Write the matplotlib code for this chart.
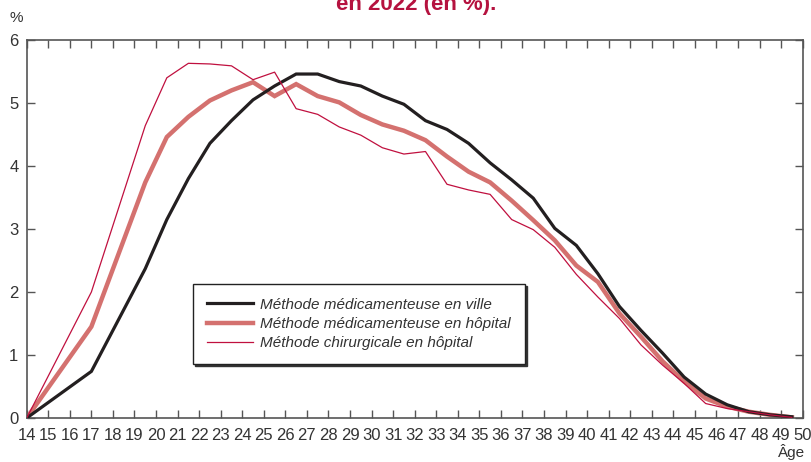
import matplotlib
matplotlib.use("Agg")
import matplotlib.pyplot as plt

# ---- data ----
ages = [14, 17, 19.5, 20.5, 21.5, 22.5, 23.5, 24.5, 25.5, 26.5, 27.5, 28.5, 29.5,
        30.5, 31.5, 32.5, 33.5, 34.5, 35.5, 36.5, 37.5, 38.5, 39.5, 40.5, 41.5,
        42.5, 43.5, 44.5, 45.5, 46.5, 47.5, 48.5, 49.5]
ville = [0, 0.74, 2.37, 3.15, 3.80, 4.36, 4.72, 5.05, 5.27, 5.46, 5.46, 5.34, 5.27,
         5.11, 4.98, 4.72, 4.58, 4.36, 4.05, 3.78, 3.49, 3.01, 2.74, 2.29, 1.77,
         1.39, 1.03, 0.65, 0.38, 0.21, 0.10, 0.05, 0.02]
hopital_med = [0, 1.45, 3.74, 4.46, 4.78, 5.04, 5.20, 5.33, 5.11, 5.30, 5.11, 5.01, 4.81,
               4.66, 4.56, 4.41, 4.15, 3.91, 3.74, 3.45, 3.14, 2.82, 2.42, 2.16, 1.66,
               1.29, 0.90, 0.58, 0.31, 0.18, 0.10, 0.05, 0.01]
chirurgicale = [0, 2.0, 4.64, 5.40, 5.63, 5.62, 5.59, 5.37, 5.49, 4.91, 4.82, 4.62, 4.49,
                4.29, 4.19, 4.23, 3.71, 3.62, 3.55, 3.15, 2.99, 2.71, 2.28, 1.92, 1.58,
                1.16, 0.84, 0.55, 0.23, 0.15, 0.10, 0.05, 0.01]
labels = ["Méthode médicamenteuse en ville",
          "Méthode médicamenteuse en hôpital",
          "Méthode chirurgicale en hôpital"]
xticks = list(range(14, 51))
yticks = [0, 1, 2, 3, 4, 5, 6]

plt.rcParams["font.family"] = ["Liberation Sans", "DejaVu Sans"]

fig = plt.figure(figsize=(8.12, 4.62), dpi=100)
ax = fig.add_axes([0.0329, 0.0952, 0.9556, 0.8182])

c_black = "#231f20"
c_med = "#d4716f"
c_chir = "#c0103f"

ax.plot(ages, ville, color=c_black, lw=2.3, label=labels[0], solid_joinstyle="miter", zorder=3)
ax.plot(ages, hopital_med, color=c_med, lw=3.2, label=labels[1], solid_joinstyle="miter", zorder=2)
ax.plot(ages, chirurgicale, color=c_chir, lw=0.9, label=labels[2], zorder=4)

ax.set_xlim(14, 50)
ax.set_ylim(0, 6)
ax.set_xticks(xticks)
ax.set_yticks(yticks)
ax.tick_params(axis="both", direction="in", length=6, width=1, color="#555555",
               labelcolor="#333333", labelsize=12, top=True, right=True)
ax.tick_params(axis="x", pad=7)
ax.tick_params(axis="y", pad=6)
for s in ax.spines.values():
    s.set_color("#555555")
    s.set_linewidth(1.2)

fig.text(0.012, 0.961, "%", fontsize=11, color="#333333", ha="left", va="center")
fig.text(0.992, 0.038, "Âge", fontsize=11, color="#333333", ha="right", va="top")
fig.text(0.512, 0.978, "en 2022 (en %).", fontsize=16, fontweight="bold",
         color="#b5123f", ha="center", va="baseline")

leg = ax.legend(loc="upper left", bbox_to_anchor=(0.2143, 0.3545), frameon=True,
                fancybox=False, shadow={"color": "#333333", "alpha": 1.0, "ox": 1.5, "oy": -1.5},
                prop={"style": "italic", "size": 11}, handlelength=3.0,
                handletextpad=0.5, labelspacing=0.35, borderpad=0.9, borderaxespad=0)
leg.get_frame().set_edgecolor("#222222")
leg.get_frame().set_linewidth(1.0)
for t in leg.get_texts():
    t.set_color("#333333")

fig.savefig("out.png", dpi=100)
